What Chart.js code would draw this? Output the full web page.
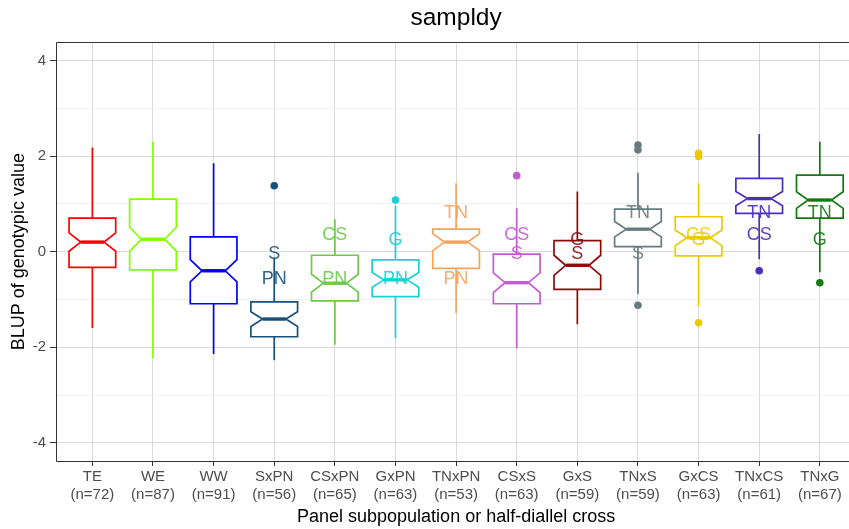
<!DOCTYPE html>
<html>
<head>
<meta charset="utf-8">
<script src="https://cdn.jsdelivr.net/npm/chart.js@4.4.1/dist/chart.umd.min.js"></script>
<style>
  html, body { margin: 0; padding: 0; background: #fff; overflow: hidden; }
  #wrap { width: 860px; height: 529px; }
</style>
</head>
<body>
<div id="wrap"><canvas id="boxChart"></canvas></div>
<script>
// ================= DATA =================
const categories = ["TE", "WE", "WW", "SxPN", "CSxPN", "GxPN", "TNxPN", "CSxS", "GxS", "TNxS", "GxCS", "TNxCS", "TNxG"];
const counts = [72, 87, 91, 56, 65, 63, 53, 63, 59, 59, 63, 61, 67];

const lowerWhisker = [-1.60, -2.23, -2.14, -2.27, -1.95, -1.81, -1.29, -2.02, -1.52, -0.885, -1.14, -0.16, -0.43];
const lowerHinge   = [-0.33, -0.38, -1.09, -1.78, -1.03, -0.94, -0.35, -1.09, -0.79, 0.105, -0.09, 0.80, 0.70];
const medians      = [0.20, 0.26, -0.40, -1.41, -0.66, -0.59, 0.20, -0.65, -0.285, 0.47, 0.29, 1.11, 1.08];
const upperHinge   = [0.70, 1.10, 0.31, -1.05, -0.075, -0.17, 0.47, -0.05, 0.23, 0.89, 0.73, 1.535, 1.60];
const upperWhisker = [2.18, 2.30, 1.85, -0.12, 0.68, 0.96, 1.43, 0.91, 1.26, 1.65, 1.43, 2.46, 2.30];
const outliers = [[], [], [], [1.38], [], [1.08], [], [1.59], [], [2.23, 2.13, -1.12], [2.06, 1.99, -1.49], [-0.40], [-0.65]];

// parent labels shown on each cross, placed at the parent's value
const parentNames  = ["TN", "CS", "G", "S", "PN"];
const parentValues = [0.80, 0.35, 0.245, -0.05, -0.58];
const crossParents = [[], [], [], ["S", "PN"], ["CS", "PN"], ["G", "PN"], ["TN", "PN"], ["CS", "S"], ["G", "S"], ["TN", "S"], ["CS", "G"], ["TN", "CS"], ["TN", "G"]];

const colors = ["#FF0000", "#7FFF00", "#0000FF", "#17507C", "#6CC94B", "#1CCFD6", "#F4A460", "#C55BD0", "#8B0A0A", "#667C80", "#EEC900", "#4A30B8", "#137A13"];

const yTicks = [-4, -3, -2, -1, 0, 1, 2, 3, 4];

// ================= DRAWING =================
const FONT = '"Liberation Sans", Arial, Helvetica, sans-serif';
Chart.defaults.font.family = FONT;

const outlierPoints = [];
const outlierColors = [];
outliers.forEach((vals, i) => {
  vals.forEach(v => {
    outlierPoints.push({ x: i, y: v });
    outlierColors.push(colors[i]);
  });
});

const notchedBoxes = {
  id: "notchedBoxes",
  beforeDatasetsDraw(chart) {
    const { ctx, scales: { x, y } } = chart;
    const halfW = 0.385;
    ctx.save();
    categories.forEach((cat, i) => {
      const col = colors[i];
      const notch = 1.58 * (upperHinge[i] - lowerHinge[i]) / Math.sqrt(counts[i]);
      const xc = x.getPixelForValue(i);
      const xl = x.getPixelForValue(i - halfW);
      const xr = x.getPixelForValue(i + halfW);
      const xnl = x.getPixelForValue(i - halfW / 2);
      const xnr = x.getPixelForValue(i + halfW / 2);
      const yq1 = y.getPixelForValue(lowerHinge[i]);
      const yq3 = y.getPixelForValue(upperHinge[i]);
      const ymed = y.getPixelForValue(medians[i]);
      const ynu = y.getPixelForValue(medians[i] + notch);
      const ynl = y.getPixelForValue(medians[i] - notch);

      ctx.strokeStyle = col;
      ctx.lineWidth = 1.7;
      ctx.lineJoin = "miter";
      // whiskers
      ctx.beginPath();
      ctx.moveTo(xc, yq3);
      ctx.lineTo(xc, y.getPixelForValue(upperWhisker[i]));
      ctx.moveTo(xc, yq1);
      ctx.lineTo(xc, y.getPixelForValue(lowerWhisker[i]));
      ctx.stroke();

      // notched box
      ctx.beginPath();
      ctx.moveTo(xl, yq3);
      ctx.lineTo(xl, ynu);
      ctx.lineTo(xnl, ymed);
      ctx.lineTo(xl, ynl);
      ctx.lineTo(xl, yq1);
      ctx.lineTo(xr, yq1);
      ctx.lineTo(xr, ynl);
      ctx.lineTo(xnr, ymed);
      ctx.lineTo(xr, ynu);
      ctx.lineTo(xr, yq3);
      ctx.closePath();
      ctx.fillStyle = "#fff";
      ctx.fill();
      ctx.stroke();

      // median
      ctx.lineWidth = 3.4;
      ctx.beginPath();
      ctx.moveTo(xnl, ymed);
      ctx.lineTo(xnr, ymed);
      ctx.stroke();
    });

    // parent labels
    ctx.font = "18px " + FONT;
    ctx.textAlign = "center";
    ctx.textBaseline = "middle";
    ctx.globalAlpha = 0.9;
    crossParents.forEach((parents, i) => {
      parents.forEach(p => {
        const v = parentValues[parentNames.indexOf(p)];
        ctx.fillStyle = colors[i];
        ctx.fillText(p, x.getPixelForValue(i), y.getPixelForValue(v));
      });
    });
    ctx.restore();
  },
  afterDraw(chart) {
    // panel border (right side falls outside the visible page)
    const { ctx, chartArea: a } = chart;
    const l = Math.round(a.left) + 0.5, t = Math.round(a.top) + 0.5;
    const b = Math.round(a.bottom) + 0.5, r = Math.round(a.right) + 0.5;
    ctx.save();
    ctx.strokeStyle = "#333";
    ctx.lineWidth = 1;
    ctx.beginPath();
    ctx.moveTo(r, t);
    ctx.lineTo(l, t);
    ctx.lineTo(l, b);
    ctx.lineTo(r, b);
    ctx.stroke();
    ctx.restore();
  }
};

new Chart(document.getElementById("boxChart"), {
  type: "scatter",
  data: {
    datasets: [{
      data: outlierPoints,
      pointBackgroundColor: outlierColors,
      pointBorderWidth: 0,
      pointRadius: 3.8,
      pointHoverRadius: 3.8
    }]
  },
  options: {
    responsive: true,
    maintainAspectRatio: false,
    animation: false,
    devicePixelRatio: 1,
    layout: { padding: { left: 0, right: 2, top: 0, bottom: 0 } },
    plugins: {
      legend: { display: false },
      tooltip: { enabled: false },
      title: {
        display: true,
        text: "sampldy",
        fullSize: false,
        color: "#000",
        font: { size: 24.5, weight: "normal", lineHeight: 1.2 },
        padding: { top: 3.7, bottom: 9.2 }
      }
    },
    scales: {
      x: {
        type: "linear",
        min: -0.6,
        max: 12.6,
        afterBuildTicks: (scale) => { scale.ticks = categories.map((c, i) => ({ value: i })); },
        afterFit: (scale) => { scale.height = 68; },
        ticks: {
          autoSkip: false,
          maxRotation: 0,
          padding: 2,
          color: "#4d4d4d",
          font: { size: 15, lineHeight: 1.2 },
          callback: (v) => [categories[v], "(n=" + counts[v] + ")"]
        },
        grid: { color: "#dadada", lineWidth: 1, tickLength: 5, tickColor: "#333" },
        border: { display: false },
        title: {
          display: true,
          text: "Panel subpopulation or half-diallel cross",
          color: "#000",
          font: { size: 18 },
          padding: { top: 0, bottom: 1 }
        }
      },
      y: {
        min: -4.38,
        max: 4.38,
        afterBuildTicks: (scale) => { scale.ticks = yTicks.map(v => ({ value: v })); },
        afterFit: (scale) => { scale.width = 56; },
        ticks: {
          padding: 4,
          color: "#4d4d4d",
          font: { size: 15 },
          callback: (v) => (v % 2 === 0 ? String(v) : "")
        },
        grid: {
          color: (c) => (c.tick && c.tick.value % 2 !== 0 ? "#f1f1f1" : "#dadada"),
          lineWidth: 1,
          tickLength: 6,
          tickColor: (c) => (c.tick && c.tick.value % 2 !== 0 ? "rgba(0,0,0,0)" : "#333")
        },
        border: { display: false },
        title: {
          display: true,
          text: "BLUP of genotypic value",
          color: "#000",
          font: { size: 18 },
          padding: { top: 8, bottom: 0 }
        }
      }
    }
  },
  plugins: [notchedBoxes]
});
</script>
</body>
</html>
